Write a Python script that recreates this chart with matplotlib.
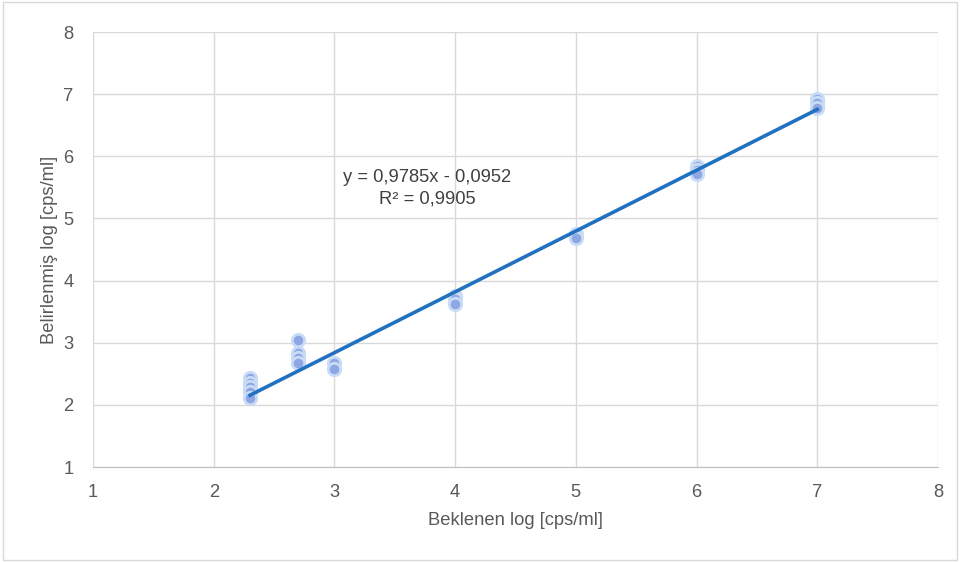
import matplotlib.pyplot as plt
from matplotlib.patches import Rectangle

plt.rcParams['font.family'] = ['Liberation Sans', 'DejaVu Sans']

# expected log vs determined log
x_vals = [2.3, 2.3, 2.3, 2.3, 2.3,
          2.7, 2.7, 2.7, 2.7,
          3, 3,
          4, 4, 4,
          5, 5,
          6, 6, 6,
          7, 7, 7]
y_vals = [2.43, 2.35, 2.29, 2.21, 2.11,
          3.04, 2.83, 2.75, 2.67,
          2.67, 2.58,
          3.75, 3.70, 3.63,
          4.75, 4.68,
          5.85, 5.78, 5.72,
          6.92, 6.85, 6.78]
slope, intercept = 0.9785, -0.0952
r2 = 0.9905

fs = 13.2

fig = plt.figure(figsize=(9.6, 5.62), dpi=100)
fig.patches.append(Rectangle((0.003, 0.003), 0.994, 0.994, transform=fig.transFigure,
                             fill=False, edgecolor='#d9d9d9', linewidth=1))
ax = fig.add_axes([0.097, 0.169, 0.88, 0.774])

ax.scatter(x_vals, y_vals, s=80, color='#8ea6e4', edgecolors='#c9dcf6', linewidths=2, zorder=3)

xs = [min(x_vals), max(x_vals)]
ax.plot(xs, [slope * v + intercept for v in xs], color='#2171c1', linewidth=2.6, zorder=4)

ax.text(3.77, 5.66, 'y = 0,9785x - 0,0952', ha='center', va='center', fontsize=fs, color='#404040')
ax.text(3.77, 5.32, 'R² = 0,9905', ha='center', va='center', fontsize=fs, color='#404040')

ax.set_xlim(1, 8)
ax.set_ylim(1, 8)
ax.set_xticks(range(1, 9))
ax.set_yticks(range(1, 9))
ax.grid(True, color='#d9d9d9', linewidth=1)
ax.set_axisbelow(True)
for s in ['top', 'right', 'left']:
    ax.spines[s].set_visible(False)
ax.spines['bottom'].set_color('#bfbfbf')
ax.tick_params(length=0, labelsize=fs, colors='#595959')
ax.tick_params(axis='x', pad=12)
ax.tick_params(axis='y', pad=14)
ax.set_xlabel('Beklenen log [cps/ml]', fontsize=fs, color='#595959', labelpad=8)
ax.set_ylabel('Belirlenmiş log [cps/ml]', fontsize=fs, color='#595959', labelpad=4)

fig.savefig('out.png', dpi=100)
